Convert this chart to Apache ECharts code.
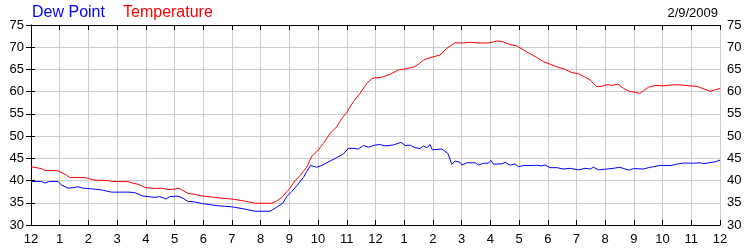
<!DOCTYPE html>
<html><head><meta charset="utf-8">
<script src="https://cdn.jsdelivr.net/npm/echarts@6/dist/echarts.min.js"></script>
<style>html,body{margin:0;padding:0;background:#fff}#c{width:750px;height:250px}</style>
</head><body><div id="c"></div>
<script>
var tickLabels = ['12','1','2','3','4','5','6','7','8','9','10','11','12','1','2','3','4','5','6','7','8','9','10','11','12'];

var tempHours = [0,0.36,0.48,0.94,1.0,1.23,1.35,1.81,2.0,2.22,2.68,2.8,3.38,3.5,3.73,4.0,4.31,4.54,4.77,5.0,5.12,5.24,5.47,5.7,5.98,6.17,6.47,6.99,7.52,7.8,8.39,8.56,8.73,8.91,9.0,9.2,9.37,9.6,9.78,10.01,10.19,10.42,10.65,10.83,11.0,11.23,11.46,11.7,11.87,11.99,12.16,12.28,12.51,12.8,13.01,13.32,13.5,13.67,13.9,14.25,14.48,14.77,15.06,15.3,15.64,15.93,16.23,16.4,16.69,16.92,17.15,17.39,17.62,17.85,18.08,18.32,18.61,18.84,19.07,19.24,19.48,19.71,19.88,20.06,20.23,20.44,20.64,20.81,21.04,21.2,21.33,21.51,21.74,22.03,22.38,22.67,22.96,23.19,23.45,23.66,23.83,24.0];
var tempValues = [43.1,42.7,42.3,42.2,42.0,41.25,40.7,40.7,40.5,40.1,40.0,39.8,39.75,39.5,39.15,38.4,38.2,38.3,38.0,38.05,38.3,37.95,37.1,36.9,36.5,36.4,36.15,35.85,35.3,34.9,34.9,35.4,36.15,37.5,38.1,40.0,41.1,43.0,45.4,46.9,48.4,50.6,52.1,54.0,55.35,57.75,59.6,61.9,62.9,63.15,63.15,63.4,63.9,64.9,65.1,65.5,66.2,67.1,67.65,68.25,69.75,71.0,70.95,71.1,70.95,70.95,71.4,71.3,70.6,70.3,69.4,68.5,67.7,66.75,66.2,65.6,65.0,64.3,64.0,63.5,62.6,61.1,61.2,61.6,61.4,61.7,60.75,60.15,59.85,59.6,60.2,61.0,61.4,61.3,61.55,61.5,61.3,61.2,60.6,60.1,60.45,60.7];

var dewHours = [0,0.36,0.48,0.65,0.94,1.06,1.29,1.46,1.64,1.81,2.0,2.45,2.8,3.38,3.61,3.9,4.08,4.31,4.48,4.71,4.83,5.12,5.3,5.47,5.7,5.98,6.17,6.47,6.99,7.52,7.8,8.33,8.56,8.77,8.91,9.08,9.26,9.49,9.6,9.74,9.95,10.13,10.3,10.65,10.88,11.06,11.23,11.4,11.58,11.75,11.99,12.16,12.33,12.62,12.89,13.03,13.21,13.38,13.55,13.67,13.79,13.9,13.98,14.14,14.31,14.52,14.66,14.77,14.95,15.01,15.18,15.47,15.59,15.76,15.93,16.02,16.11,16.4,16.52,16.69,16.86,16.98,17.15,17.5,17.62,17.79,17.91,18.08,18.32,18.55,18.78,19.07,19.3,19.48,19.59,19.77,20.06,20.29,20.5,20.7,20.85,20.99,21.33,21.51,21.74,21.92,22.32,22.38,22.5,22.73,23.08,23.31,23.43,23.6,23.83,24.0];
var dewValues = [39.8,39.8,39.45,39.8,39.8,39.0,38.3,38.4,38.6,38.3,38.2,37.9,37.4,37.4,37.3,36.5,36.4,36.2,36.4,35.85,36.4,36.5,36.0,35.3,35.2,34.8,34.65,34.35,34.1,33.5,33.1,33.1,34.0,34.9,36.4,37.5,38.85,40.7,42.0,43.4,43.0,43.4,44.0,45.15,46.0,47.25,47.25,47.1,47.9,47.5,48.0,48.1,47.8,48.0,48.6,47.9,47.95,47.4,47.2,47.8,47.4,48.1,46.9,47.0,47.1,46.1,43.65,44.4,44.1,43.5,44.0,44.0,43.5,43.9,43.9,44.55,43.7,43.75,44.1,43.45,43.75,43.1,43.4,43.4,43.45,43.3,43.5,42.9,42.9,42.6,42.75,42.4,42.75,42.6,43.0,42.4,42.6,42.75,43.0,42.6,42.35,42.7,42.6,42.9,43.2,43.4,43.4,43.3,43.7,43.95,43.9,44.0,43.8,44.0,44.2,44.6];

var seriesNames = ['Dew Point', 'Temperature'];
var dateLabel = '2/9/2009';

function pairs(h, v) { return h.map(function (x, i) { return [x, v[i]]; }); }

var font = 'Liberation Sans, Arial, sans-serif';
var labelStyle = { color: '#000', fontSize: 13, fontFamily: font };

var chart = echarts.init(document.getElementById('c'), null, { renderer: 'canvas' });
chart.setOption({
  animation: false,
  backgroundColor: '#fff',
  title: [
    { text: seriesNames[0], left: 32, top: 5, padding: 0, textStyle: { color: '#0000ff', fontSize: 16, fontWeight: 'normal', fontFamily: font } },
    { text: seriesNames[1], left: 123, top: 5, padding: 0, textStyle: { color: '#ff0000', fontSize: 16, fontWeight: 'normal', fontFamily: font } },
    { text: dateLabel, right: 32, top: 7, padding: 0, textStyle: { color: '#000', fontSize: 13, fontWeight: 'normal', fontFamily: font } }
  ],
  grid: { left: 31, right: 30, top: 25, bottom: 25, containLabel: false },
  xAxis: [
    {
      type: 'value', min: 0, max: 24, interval: 1, position: 'bottom',
      axisLine: { show: true, lineStyle: { color: '#000', width: 1 } },
      axisTick: { show: true, inside: true, length: 5, lineStyle: { color: '#000' } },
      axisLabel: Object.assign({ margin: 8, showMinLabel: true, showMaxLabel: true,
        formatter: function (v) { return tickLabels[Math.round(v)]; } }, labelStyle),
      splitLine: { show: true, lineStyle: { color: '#cccccc', width: 1 } }
    },
    {
      type: 'value', min: 0, max: 24, interval: 1, position: 'top',
      axisLine: { show: true, lineStyle: { color: '#000', width: 1 } },
      axisTick: { show: true, inside: true, length: 5, lineStyle: { color: '#000' } },
      axisLabel: { show: false },
      splitLine: { show: false }
    }
  ],
  yAxis: [
    {
      type: 'value', min: 30, max: 75, interval: 5, position: 'left',
      axisLine: { show: true, lineStyle: { color: '#000', width: 1 } },
      axisTick: { show: true, inside: false, length: 5, lineStyle: { color: '#000' } },
      axisLabel: Object.assign({ margin: 7 }, labelStyle),
      splitLine: { show: true, lineStyle: { color: '#cccccc', width: 1 } }
    },
    {
      type: 'value', min: 30, max: 75, interval: 5, position: 'right',
      axisLine: { show: true, lineStyle: { color: '#000', width: 1 } },
      axisTick: { show: true, inside: false, length: 4, lineStyle: { color: '#000' } },
      axisLabel: Object.assign({ margin: 7 }, labelStyle),
      splitLine: { show: false }
    }
  ],
  series: [
    { name: seriesNames[1], type: 'line', xAxisIndex: 0, yAxisIndex: 0, showSymbol: false, symbol: 'none',
      lineStyle: { color: '#ff0000', width: 1 }, itemStyle: { color: '#ff0000' }, data: pairs(tempHours, tempValues) },
    { name: seriesNames[0], type: 'line', xAxisIndex: 0, yAxisIndex: 0, showSymbol: false, symbol: 'none',
      lineStyle: { color: '#0000ff', width: 1 }, itemStyle: { color: '#0000ff' }, data: pairs(dewHours, dewValues) }
  ]
});
</script></body></html>
